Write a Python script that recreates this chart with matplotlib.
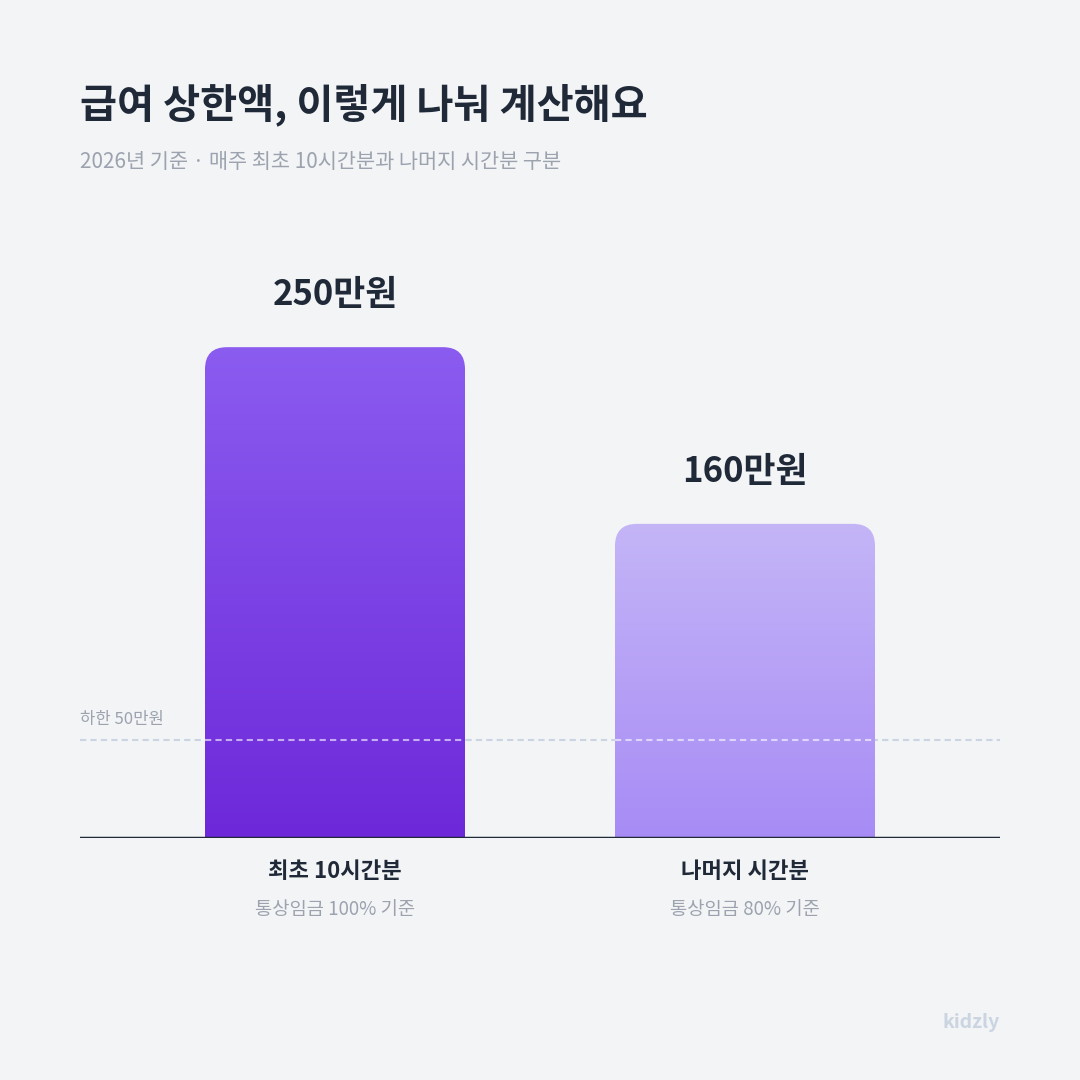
import numpy as np
import matplotlib.pyplot as plt
from matplotlib.patches import FancyBboxPatch
from matplotlib.colors import LinearSegmentedColormap

plt.rcParams['font.family'] = ['Noto Sans CJK KR', 'DejaVu Sans']

categories = ['최초 10시간분', '나머지 시간분']
basis = ['통상임금 100% 기준', '통상임금 80% 기준']
values = [250, 160]
value_labels = ['250만원', '160만원']
floor_value = 50

bg = '#F3F4F6'
fig = plt.figure(figsize=(10.8, 10.8), dpi=100, facecolor=bg)
ax = fig.add_axes([80 / 1080, 242 / 1080, 920 / 1080, 589 / 1080])
ax.set_facecolor(bg)
ax.set_xlim(0, 920)
ax.set_ylim(0, 300)
ax.axis('off')

centers = [255, 665]
width = 260
gradients = [('#8B5CF0', '#6D28D9'), ('#C4B5F7', '#A78BF5')]
yscale = 589 / 300

for cx, v, (top, bot), lab in zip(centers, values, gradients, value_labels):
    x0 = cx - width / 2
    patch = FancyBboxPatch((x0, -15), width, v + 15,
                           boxstyle='round,pad=0,rounding_size=22',
                           mutation_aspect=1 / yscale,
                           fc='none', ec='none')
    ax.add_patch(patch)
    cmap = LinearSegmentedColormap.from_list('g', [bot, top])
    grad = np.linspace(0, 1, 256).reshape(-1, 1)
    im = ax.imshow(grad, cmap=cmap, origin='lower', aspect='auto',
                   extent=[x0, x0 + width, -2, v], zorder=2)
    im.set_clip_path(patch)
    ax.text(cx, v + 18, lab, ha='center', va='bottom', fontsize=25,
            fontweight='bold', color='#1F2937')

ax.axhline(floor_value, color='#CBD5E1', ls=(0, (3, 2)), lw=1.5, zorder=1)
for cx in centers:
    ax.plot([cx - width / 2, cx + width / 2], [floor_value] * 2,
            color='white', alpha=0.6, ls=(0, (3, 2)), lw=1.5, zorder=3)
ax.text(0, floor_value + 6, '하한 50만원', fontsize=12, color='#9CA3AF',
        va='bottom', ha='left')
ax.axhline(0, color='#1F2937', lw=2.5, zorder=4)

for cx, c, b in zip(centers, categories, basis):
    fig.text((cx + 80) / 1080, 1 - 872 / 1080, c, ha='center', va='center',
             fontsize=16, fontweight='bold', color='#1F2937')
    fig.text((cx + 80) / 1080, 1 - 909 / 1080, b, ha='center', va='center',
             fontsize=13.5, color='#9CA3AF')

fig.text(80 / 1080, 1 - 105 / 1080, '급여 상한액, 이렇게 나눠 계산해요',
         fontsize=29, fontweight='bold', color='#1F2937', va='center')
fig.text(80 / 1080, 1 - 162 / 1080, '2026년 기준 · 매주 최초 10시간분과 나머지 시간분 구분',
         fontsize=15, color='#9CA3AF', va='center')
fig.text(1000 / 1080, 1 - 1022 / 1080, 'kidzly', fontsize=14, fontweight='bold',
         color='#CBD5E1', ha='right', va='center')

fig.savefig('out.png', dpi=100, facecolor=bg)
